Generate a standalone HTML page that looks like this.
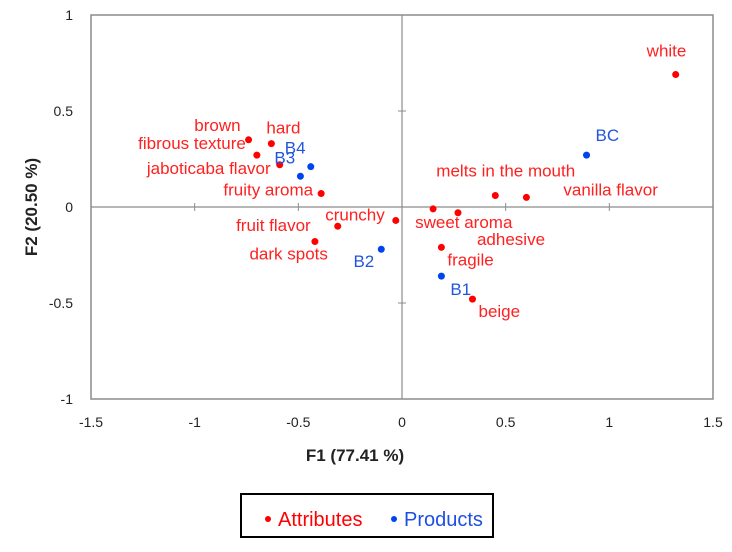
<!DOCTYPE html>
<html><head><meta charset="utf-8"><style>
body{margin:0;background:#fff;width:732px;height:547px;overflow:hidden}
svg{font-family:"Liberation Sans",Arial,sans-serif}
</style></head><body>
<svg id="chart" width="732" height="547">
<rect x="91" y="15" width="622" height="384" fill="none" stroke="#8c8c8c" stroke-width="1.5"/>
<g id="axes"></g>
<g id="points"></g>
<text x="355" y="461" text-anchor="middle" font-size="17" font-weight="bold" fill="#222">F1 (77.41 %)</text>
<text transform="translate(37,207) rotate(-90)" text-anchor="middle" font-size="17" font-weight="bold" fill="#222">F2 (20.50 %)</text>
<g>
<rect x="241" y="494" width="252" height="43" fill="#fff" stroke="#000" stroke-width="2"/>
<circle cx="268" cy="519" r="3" fill="#ff0000"/>
<text x="278" y="526" font-size="20" fill="#ff0000">Attributes</text>
<circle cx="394" cy="519" r="3" fill="#0044ee"/>
<text x="404" y="526" font-size="20" fill="#1f4fe0">Products</text>
</g>
</svg>
<script>
const attrNames=["brown","hard","fibrous texture","jaboticaba flavor","fruity aroma","fruit flavor","dark spots","crunchy","sweet aroma","adhesive","fragile","beige","melts in the mouth","vanilla flavor","white"];
const attrF1=[-0.74,-0.63,-0.70,-0.59,-0.39,-0.31,-0.42,-0.03,0.15,0.27,0.19,0.34,0.45,0.60,1.32];
const attrF2=[0.35,0.33,0.27,0.22,0.07,-0.10,-0.18,-0.07,-0.01,-0.03,-0.21,-0.48,0.06,0.05,0.69];
const prodNames=["B4","B3","B2","B1","BC"];
const prodF1=[-0.44,-0.49,-0.10,0.19,0.89];
const prodF2=[0.21,0.16,-0.22,-0.36,0.27];
const xTicks=[-1.5,-1,-0.5,0,0.5,1,1.5];
const yTicks=[1,0.5,0,-0.5,-1];
// label offsets (style only)
const attrLab=[[-8,-9,"end"],[-5,-10,"start"],[-11,-6,"end"],[-9,9,"end"],[-8,2,"end"],[-27,5,"end"],[13,18,"end"],[-11,0,"end"],[-18,19,"start"],[19,32,"start"],[6,18,"start"],[6,18,"start"],[-59,-19,"start"],[37,-2,"start"],[-29,-18,"start"]];
const prodLab=[[-26,-13,"start"],[-26,-13,"start"],[-7,18,"end"],[9,19,"start"],[9,-14,"start"]];
const X0=91,X1=713,Y0=15,Y1=399;
const sx=v=>X0+(v+1.5)/3*(X1-X0);
const sy=v=>Y1-(v+1)/2*(Y1-Y0);
const NS="http://www.w3.org/2000/svg";
function mk(tag,attrs,parent){const e=document.createElementNS(NS,tag);for(const k in attrs)e.setAttribute(k,attrs[k]);parent.appendChild(e);return e;}
const ax=document.getElementById('axes');
let l=mk('line',{x1:X0,x2:X1,y1:sy(0),y2:sy(0),stroke:'#8c8c8c','stroke-width':1.2},ax);


l=mk('line',{x1:sx(0),x2:sx(0),y1:Y0,y2:Y1,stroke:'#8c8c8c','stroke-width':1.2},ax);


xTicks.forEach(v=>{
 const t=mk('line',{x1:sx(v),x2:sx(v),y1:sy(0)-4,y2:sy(0)+4,stroke:'#8c8c8c'},ax);
 
 
 const tx=mk('text',{x:sx(v),y:427,'text-anchor':'middle','font-size':14,fill:'#222'},ax);
 tx.textContent=String(v);
 
 
});
yTicks.forEach(v=>{
 const t=mk('line',{x1:sx(0)-4,x2:sx(0)+4,y1:sy(v),y2:sy(v),stroke:'#8c8c8c'},ax);
 
 
 const tx=mk('text',{x:73,y:sy(v)+5,'text-anchor':'end','font-size':14,fill:'#222'},ax);
 tx.textContent=String(v);
 
 
});
const pg=document.getElementById('points');
function draw(names,f1,f2,lab,col,tcol,kind){
 names.forEach((n,i)=>{
  const x=sx(f1[i]),y=sy(f2[i]);
  const c=mk('circle',{cx:x,cy:y,r:3.5,fill:col},pg);
  
  
  const t=mk('text',{x:x+lab[i][0],y:y+lab[i][1],'text-anchor':lab[i][2],'font-size':17,fill:tcol},pg);
  t.textContent=n;
  
  
 });
}
draw(attrNames,attrF1,attrF2,attrLab,'#ff0000','#ff2020','attribute');
draw(prodNames,prodF1,prodF2,prodLab,'#0044ee','#2255dd','product');
</script>
</body></html>
